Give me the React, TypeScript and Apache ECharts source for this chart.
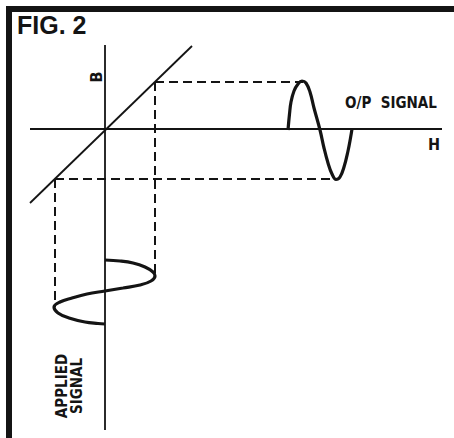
import React, { useEffect, useRef } from "react";
import * as echarts from "echarts";

// Coordinates in (H, B) units of the figure
const hAxis: number[][] = [[-7.5, 0.1], [33.7, 0.1]];
const bAxis: number[][] = [[0, 8.5], [0, -30]];
const transferLine: number[][] = [[-7.5, -7.3], [8.7, 8.4]];
const dashTop: number[][] = [[5.0, 4.8], [19.8, 4.8]];
const dashBottom: number[][] = [[-5.0, -4.9], [23.0, -4.9]];
const dashRight: number[][] = [[5.0, 4.8], [5.0, -14.5]];
const dashLeft: number[][] = [[-5.0, -4.9], [-5.0, -17.7]];
const outputSignal: number[][] = [
  [18.3, 0], [18.45, 1.6], [18.6, 2.8], [18.9, 3.9], [19.3, 4.6], [19.7, 4.9],
  [20.1, 4.7], [20.5, 3.8], [20.9, 2.2], [21.5, 0], [21.9, -1.8], [22.3, -3.3],
  [22.7, -4.4], [23.1, -4.95], [23.5, -4.7], [23.9, -3.7], [24.3, -2.1],
  [24.55, -0.8], [24.7, 0.1],
];
const appliedSignal: number[][] = [
  [0, -13.0], [1.5, -13.1], [2.8, -13.3], [4.0, -13.7], [4.8, -14.2], [5.0, -14.6],
  [4.6, -15.1], [3.5, -15.5], [1.8, -15.8], [0, -16.1], [-1.8, -16.4], [-3.3, -16.8],
  [-4.5, -17.2], [-5.1, -17.7], [-4.7, -18.3], [-3.6, -18.8], [-2.0, -19.2],
  [-0.7, -19.35], [0, -19.4],
];

const INK = "#141414";

export default function App() {
  const ref = useRef<HTMLDivElement>(null);
  useEffect(() => {
    if (!ref.current) return;
    const chart = echarts.init(ref.current, null, { renderer: "svg" });
    const line = (data: number[][], width: number, dashed = false) => ({
      type: "line",
      data,
      symbol: "none",
      smooth: false,
      silent: true,
      lineStyle: {
        color: INK,
        width,
        type: dashed ? [9, 5] : "solid",
        cap: "butt",
      },
    });
    const curve = (data: number[][]) => ({
      ...line(data, 3.2),
      smooth: 0.4,
    });
    const font = "'DejaVu Sans Condensed', 'Liberation Sans Narrow', 'DejaVu Sans', sans-serif";
    chart.setOption({
      animation: false,
      backgroundColor: "#ffffff",
      grid: { left: 0, right: 0, top: 0, bottom: 0 },
      xAxis: { type: "value", min: -10.5, max: 34.9, show: false },
      yAxis: { type: "value", min: -30.8, max: 13.0, show: false },
      series: [
        line(hAxis, 1.8),
        line(bAxis, 1.8),
        line(transferLine, 1.8),
        line(dashTop, 2, true),
        line(dashBottom, 2, true),
        line(dashRight, 2, true),
        line(dashLeft, 2, true),
        curve(outputSignal),
        curve(appliedSignal),
      ],
      graphic: [
        { type: "rect", shape: { x: 6, y: 6, width: 6, height: 432 }, style: { fill: INK } },
        { type: "rect", shape: { x: 6, y: 6, width: 448, height: 6 }, style: { fill: INK } },
        {
          type: "text", x: 17, y: 12,
          style: { text: "FIG. 2", fill: INK, font: "bold 25px 'Liberation Sans', Arial, sans-serif" },
        },
        {
          type: "text", x: 96, y: 77, rotation: Math.PI / 2,
          style: { text: "B", fill: INK, align: "center", verticalAlign: "middle", font: `bold 16px ${font}` },
        },
        {
          type: "text", x: 391, y: 103,
          style: { text: "O/P  SIGNAL", fill: INK, align: "center", verticalAlign: "middle", font: `bold 15px ${font}` },
        },
        {
          type: "text", x: 434, y: 144,
          style: { text: "H", fill: INK, align: "center", verticalAlign: "middle", font: `bold 16px ${font}` },
        },
        {
          type: "text", x: 69, y: 386, rotation: Math.PI / 2,
          style: {
            text: "APPLIED\nSIGNAL", fill: INK, align: "center", verticalAlign: "middle",
            lineHeight: 15, font: `bold 15px ${font}`,
          },
        },
      ],
    });
    return () => chart.dispose();
  }, []);
  return (
    <div
      ref={ref}
      style={{ position: "absolute", left: 0, top: 0, width: 454, height: 438 }}
    />
  );
}
